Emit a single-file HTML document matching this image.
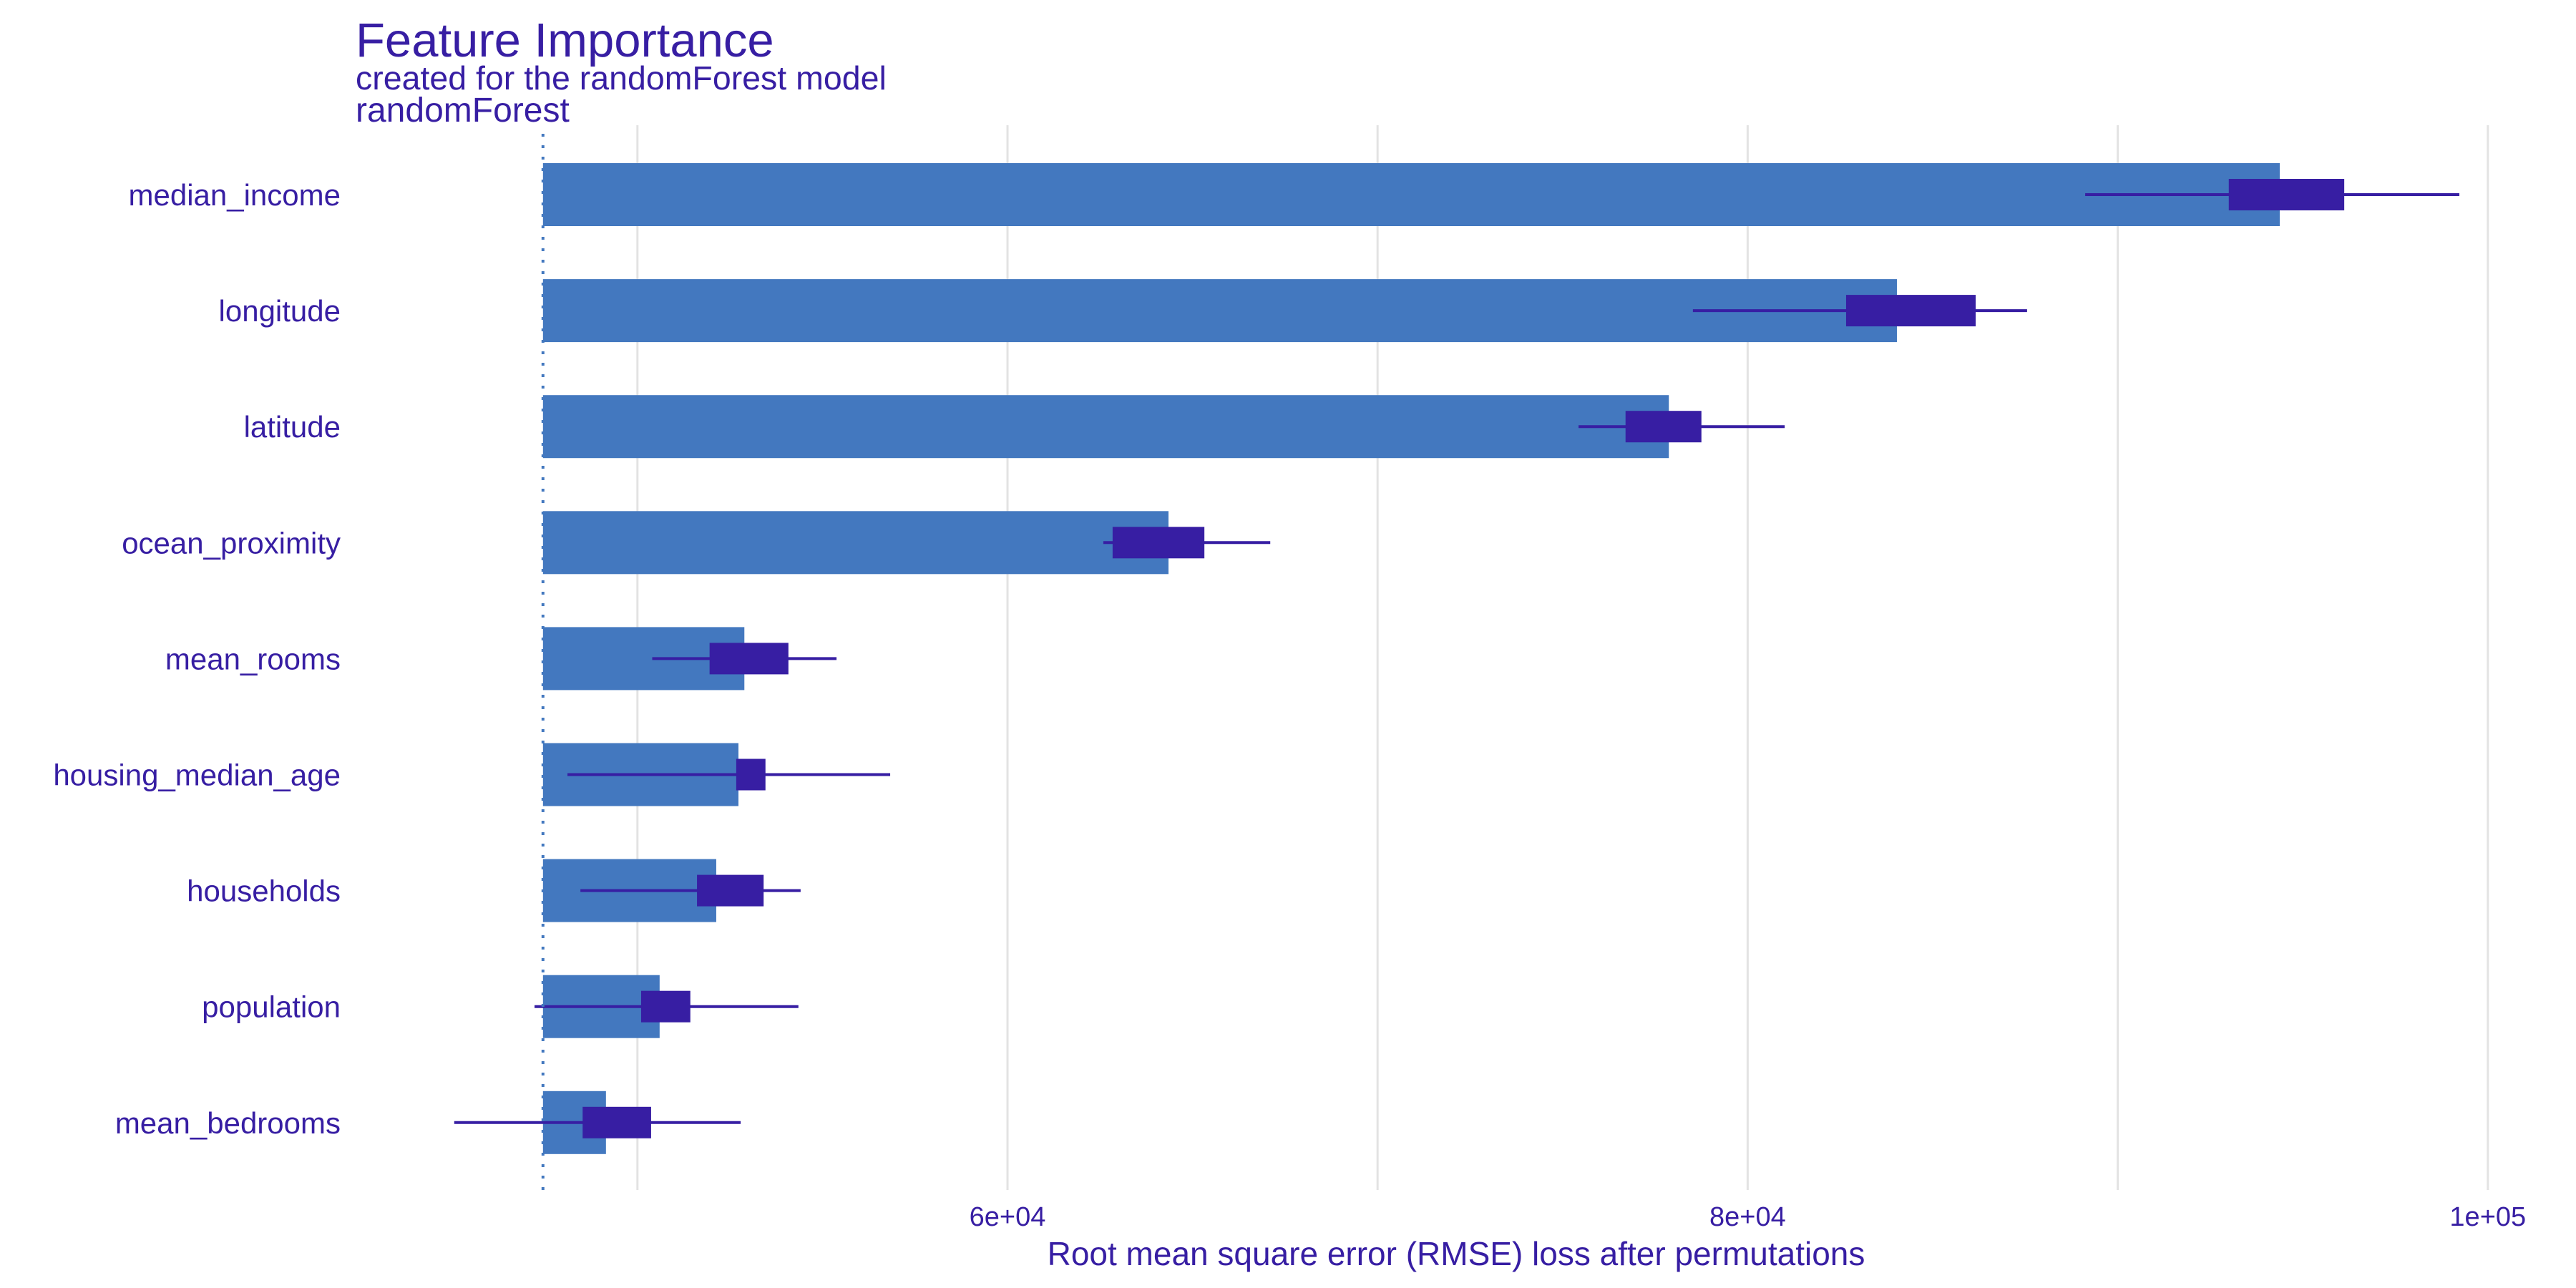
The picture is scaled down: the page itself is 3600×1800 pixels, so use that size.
<!DOCTYPE html>
<html><head><meta charset="utf-8"><style>
html,body{margin:0;padding:0;background:#fff;}
svg{display:block;font-family:"Liberation Sans",Arial,sans-serif;}
</style></head><body>
<svg id="chart" width="3600" height="1800" viewBox="0 0 3600 1800" xmlns="http://www.w3.org/2000/svg">
<rect x="0" y="0" width="3600" height="1800" fill="#fff"/>
<text x="497" y="79" font-size="67" fill="#371ea3">Feature Importance</text>
<text x="497" y="125" font-size="46.5" fill="#371ea3">created for the randomForest model</text>
<text x="497" y="170" font-size="48" fill="#371ea3">randomForest</text>
<g id="grid"></g><g id="bars"></g><g id="labels"></g><g id="ticks"></g>
<text x="2035" y="1768" font-size="46" text-anchor="middle" fill="#371ea3">Root mean square error (RMSE) loss after permutations</text>
</svg>
<script>
const features = ["median_income","longitude","latitude","ocean_proximity","mean_rooms","housing_median_age","households","population","mean_bedrooms"];
const barValues = [94377,84033,77870,64350,52890,52730,52130,50600,49150];
const boxLow = [93000,82660,76700,62840,51950,52670,51610,50100,48520];
const boxHigh = [96120,86160,78750,65320,54080,53460,53410,51430,50370];
const whiskerLow = [89120,78520,75430,62590,50400,48110,48460,47220,45050];
const whiskerHigh = [99230,87550,81000,67100,55380,56830,54410,54350,52790];
const baseline = 47448;
const gridValues = [50000,60000,70000,80000,90000,100000];
const tickValues = [60000,80000,100000];
const tickLabels = ["6e+04","8e+04","1e+05"];

const NS = "http://www.w3.org/2000/svg";
function x(v){ return 1408 + (v - 60000) / 10000 * 517.2; }
function y(i){ return 272 + i * 162.1; }
function mk(tag, attrs, parent){
  const e = document.createElementNS(NS, tag);
  for (const k in attrs) e.setAttribute(k, attrs[k]);
  parent.appendChild(e); return e;
}
const grid = document.getElementById("grid");
gridValues.forEach(v => {
  const l = mk("line", {x1:x(v), x2:x(v), y1:175, y2:1663, stroke:"#e3e3e3", "stroke-width":3}, grid);
  
  
});
const bars = document.getElementById("bars");
const labels = document.getElementById("labels");
features.forEach((f, i) => {
  const cy = y(i);
  const b = mk("rect", {x:x(baseline), y:cy-44, width:x(barValues[i])-x(baseline), height:88, fill:"#4378bf"}, bars);
  
  
  const w = mk("line", {x1:x(whiskerLow[i]), x2:x(whiskerHigh[i]), y1:cy, y2:cy, stroke:"#371ea3", "stroke-width":4}, bars);
  
  
  const bx = mk("rect", {x:x(boxLow[i]), y:cy-22, width:x(boxHigh[i])-x(boxLow[i]), height:44, fill:"#371ea3"}, bars);
  
  
  const t = mk("text", {x:476, y:cy+15, "font-size":42, "text-anchor":"end", fill:"#371ea3"}, labels);
  t.textContent = f;
  
  
});
const dl = mk("line", {x1:x(baseline), x2:x(baseline), y1:187, y2:1663, stroke:"#4378bf", "stroke-width":4, "stroke-dasharray":"4 12"}, bars);


const ticks = document.getElementById("ticks");
tickValues.forEach((v, i) => {
  const t = mk("text", {x:x(v), y:1713, "font-size":38, "text-anchor":"middle", fill:"#371ea3"}, ticks);
  t.textContent = tickLabels[i];
  
  
});
</script>
</body></html>
